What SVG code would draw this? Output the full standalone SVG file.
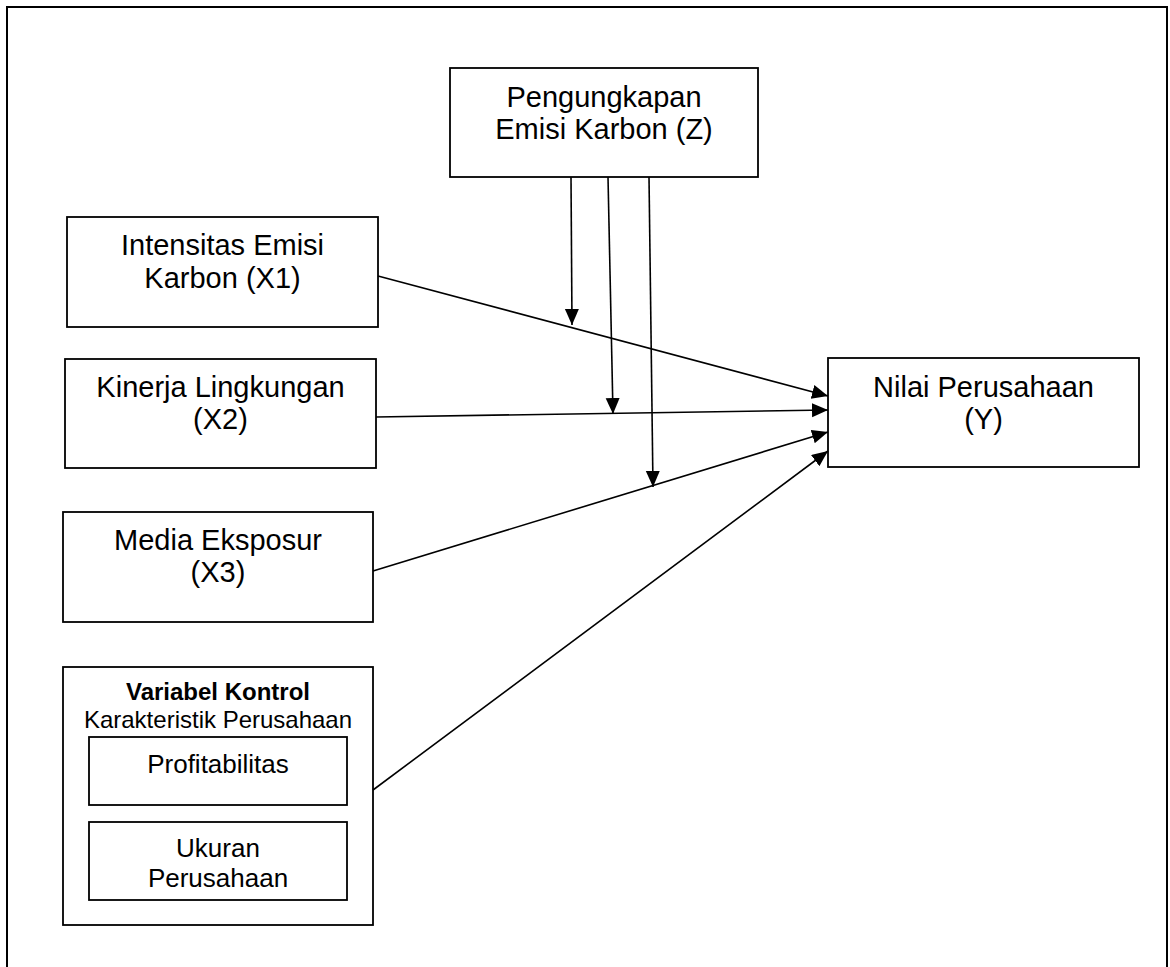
<svg xmlns="http://www.w3.org/2000/svg" width="1170" height="967" viewBox="0 0 1170 967">
<style>
.box{fill:#fff;stroke:#000;stroke-width:1.8}
.t{font-family:"Liberation Sans",Arial,sans-serif;font-size:29px;fill:#000;text-anchor:middle}
.s{font-family:"Liberation Sans",Arial,sans-serif;font-size:24px;fill:#000;text-anchor:middle}
.m{font-family:"Liberation Sans",Arial,sans-serif;font-size:26px;fill:#000;text-anchor:middle}
.c{stroke:#000;stroke-width:1.6;fill:none;marker-end:url(#ah)}
</style>
<defs>
<marker id="ah" markerUnits="userSpaceOnUse" markerWidth="17" markerHeight="15" refX="16" refY="7" orient="auto">
<path d="M0,0 L16,7 L0,14 z" fill="#000"/>
</marker>
</defs>
<rect width="1170" height="967" fill="#fff"/>
<rect id="frame" x="7" y="7" width="1160" height="1000" fill="none" stroke="#000" stroke-width="2"/>
<g id="nodeZ">
<rect class="box" x="450" y="68" width="308" height="109"/>
<text class="t" x="604" y="107">Pengungkapan</text>
<text class="t" x="604" y="139">Emisi Karbon (Z)</text>
</g>
<g id="nodeX1">
<rect class="box" x="67" y="217" width="311" height="110"/>
<text class="t" x="222.5" y="255">Intensitas Emisi</text>
<text class="t" x="222.5" y="288">Karbon (X1)</text>
</g>
<g id="nodeX2">
<rect class="box" x="65" y="359" width="311" height="109"/>
<text class="t" x="220.5" y="397">Kinerja Lingkungan</text>
<text class="t" x="220.5" y="429">(X2)</text>
</g>
<g id="nodeX3">
<rect class="box" x="63" y="512" width="310" height="110"/>
<text class="t" x="218" y="550">Media Eksposur</text>
<text class="t" x="218" y="582">(X3)</text>
</g>
<g id="nodeY">
<rect class="box" x="828" y="358" width="311" height="109"/>
<text class="t" x="983.5" y="397">Nilai Perusahaan</text>
<text class="t" x="983.5" y="429">(Y)</text>
</g>
<g id="nodeControl">
<rect class="box" x="63" y="667" width="310" height="258"/>
<text class="s" x="218" y="700" font-weight="bold">Variabel Kontrol</text>
<text class="s" x="218" y="728">Karakteristik Perusahaan</text>
<g id="nodeProfit">
<rect class="box" x="89" y="737" width="258" height="68"/>
<text class="m" x="218" y="773">Profitabilitas</text>
</g>
<g id="nodeUkuran">
<rect class="box" x="89" y="822" width="258" height="78"/>
<text class="m" x="218" y="857">Ukuran</text>
<text class="m" x="218" y="887">Perusahaan</text>
</g>
</g>
<g id="connectors">
<line class="c" x1="378" y1="276" x2="828" y2="396"/>
<line class="c" x1="376" y1="417" x2="828" y2="410"/>
<line class="c" x1="373" y1="571" x2="828" y2="432"/>
<line class="c" x1="373" y1="790" x2="828" y2="451"/>
<line class="c" x1="571" y1="177" x2="572" y2="325"/>
<line class="c" x1="608" y1="177" x2="613" y2="414"/>
<line class="c" x1="649" y1="177" x2="653" y2="487"/>
</g>
</svg>
